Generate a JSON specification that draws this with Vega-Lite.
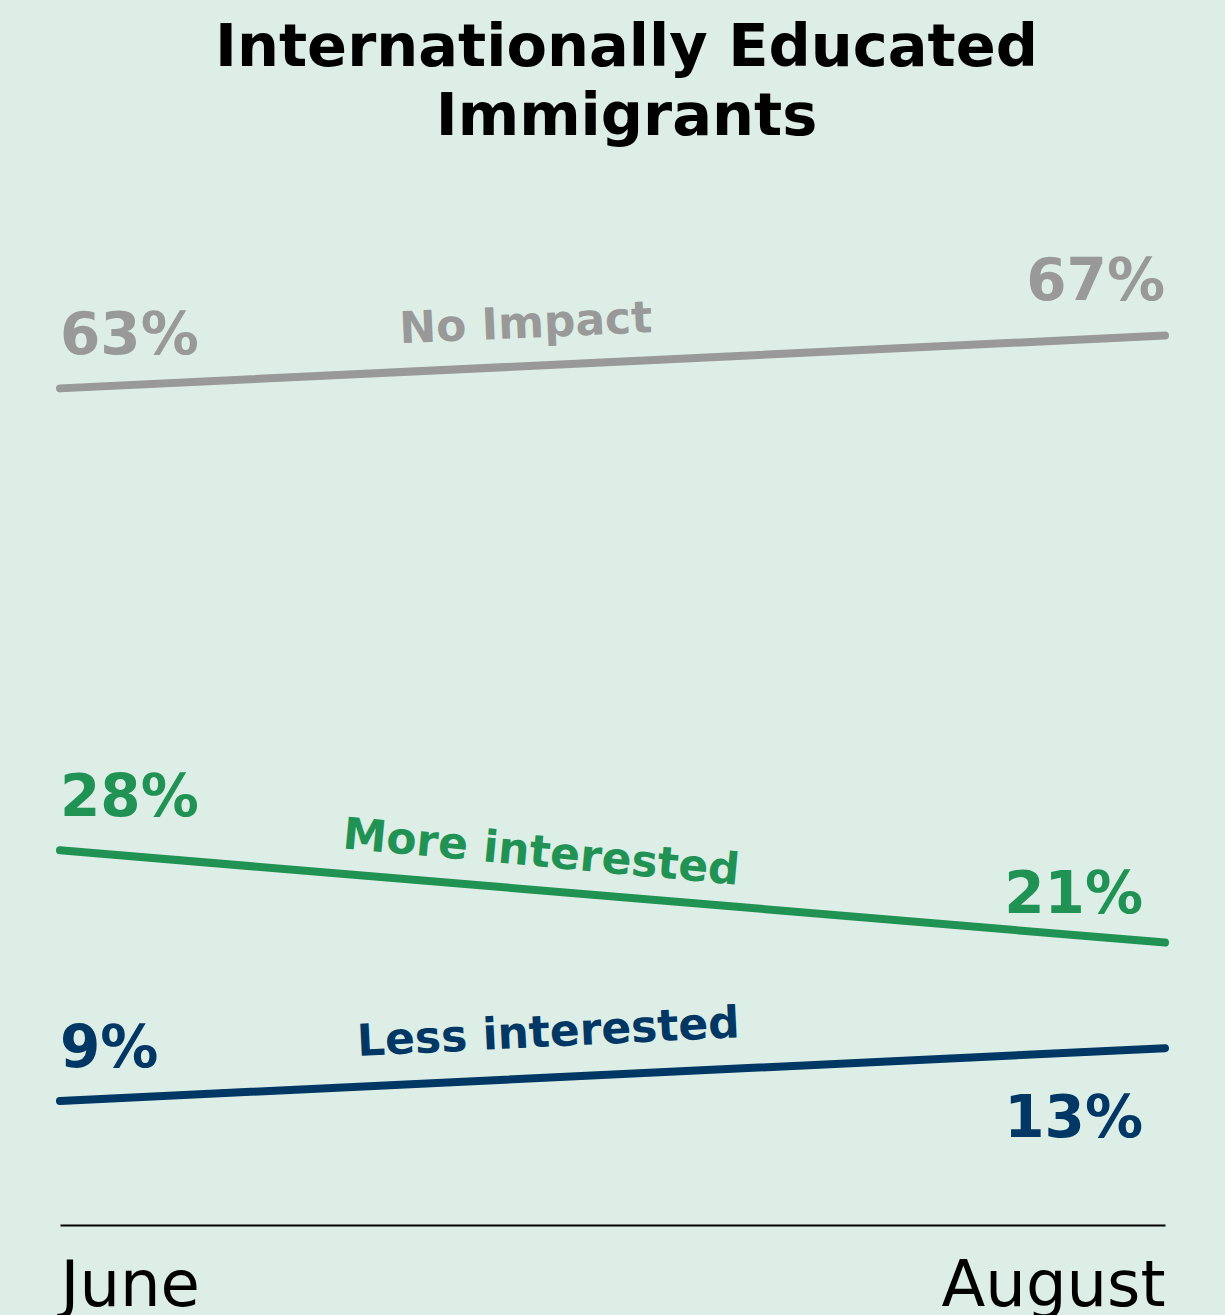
{
  "$schema": "https://vega.github.io/schema/vega-lite/v6.json",
  "width": 1105,
  "height": 929,
  "autosize": "none",
  "padding": {"left": 60, "top": 296, "right": 60, "bottom": 90},
  "background": "#ddeee6",
  "title": {
    "text": ["Internationally Educated", "Immigrants"],
    "font": "DejaVu Sans",
    "fontSize": 59,
    "fontWeight": "bold",
    "color": "#000000",
    "lineHeight": 69,
    "anchor": "middle",
    "frame": "group",
    "baseline": "alphabetic",
    "dx": 14,
    "offset": 60
  },
  "data": {
    "values": [
      {"series": "No Impact", "month": "June", "m": 6, "value": 0.63},
      {"series": "No Impact", "month": "August", "m": 8, "value": 0.67},
      {"series": "More interested", "month": "June", "m": 6, "value": 0.28},
      {"series": "More interested", "month": "August", "m": 8, "value": 0.21},
      {"series": "Less interested", "month": "June", "m": 6, "value": 0.09},
      {"series": "Less interested", "month": "August", "m": 8, "value": 0.13}
    ]
  },
  "encoding": {
    "x": {
      "field": "m",
      "type": "quantitative",
      "scale": {"domain": [6, 8], "nice": false, "zero": false},
      "axis": {
        "title": null,
        "values": [6, 8],
        "labelExpr": "datum.value == 6 ? 'June' : 'August'",
        "labelFlush": true,
        "labelLimit": 500,
        "labelFont": "DejaVu Sans",
        "labelFontSize": 64,
        "labelColor": "#000000",
        "labelBaseline": "alphabetic",
        "labelPadding": 80,
        "ticks": false,
        "grid": false,
        "domainColor": "#000000",
        "domainWidth": 2
      }
    },
    "y": {
      "field": "value",
      "type": "quantitative",
      "scale": {"domain": [-0.004, 0.70], "nice": false, "zero": false},
      "axis": null
    },
    "color": {
      "field": "series",
      "type": "nominal",
      "scale": {
        "domain": ["No Impact", "More interested", "Less interested"],
        "range": ["#999999", "#1f9254", "#003764"]
      },
      "legend": null
    }
  },
  "layer": [
    {
      "mark": {"type": "line", "strokeWidth": 8, "strokeCap": "round"},
      "encoding": {"detail": {"field": "series"}}
    },
    {
      "transform": [{"filter": "datum.month == 'June'"}],
      "mark": {"type": "text", "align": "left", "baseline": "alphabetic", "dy": -34, "font": "DejaVu Sans", "fontSize": 58, "fontWeight": 600},
      "encoding": {"text": {"field": "value", "format": ".0%"}}
    },
    {
      "transform": [{"filter": "datum.month == 'August' && datum.series == 'No Impact'"}],
      "mark": {"type": "text", "align": "right", "baseline": "alphabetic", "dy": -36, "font": "DejaVu Sans", "fontSize": 58, "fontWeight": 600},
      "encoding": {"text": {"field": "value", "format": ".0%"}}
    },
    {
      "transform": [{"filter": "datum.month == 'August' && datum.series == 'More interested'"}],
      "mark": {"type": "text", "align": "right", "baseline": "alphabetic", "dx": -22, "dy": -30, "font": "DejaVu Sans", "fontSize": 58, "fontWeight": 600},
      "encoding": {"text": {"field": "value", "format": ".0%"}}
    },
    {
      "transform": [{"filter": "datum.month == 'August' && datum.series == 'Less interested'"}],
      "mark": {"type": "text", "align": "right", "baseline": "alphabetic", "dx": -22, "dy": 89, "font": "DejaVu Sans", "fontSize": 58, "fontWeight": 600},
      "encoding": {"text": {"field": "value", "format": ".0%"}}
    },
    {
      "transform": [
        {"filter": "datum.series == 'No Impact'"},
        {"aggregate": [{"op": "mean", "field": "m", "as": "m"}, {"op": "mean", "field": "value", "as": "value"}], "groupby": ["series"]}
      ],
      "mark": {"type": "text", "align": "center", "baseline": "alphabetic", "angle": 357.5, "dx": -85, "dy": -28, "font": "DejaVu Sans", "fontSize": 44, "fontWeight": "bold"},
      "encoding": {"text": {"field": "series"}}
    },
    {
      "transform": [
        {"filter": "datum.series == 'More interested'"},
        {"aggregate": [{"op": "mean", "field": "m", "as": "m"}, {"op": "mean", "field": "value", "as": "value"}], "groupby": ["series"]}
      ],
      "mark": {"type": "text", "align": "center", "baseline": "alphabetic", "angle": 5.3, "dx": -75, "dy": -23, "font": "DejaVu Sans", "fontSize": 44, "fontWeight": "bold"},
      "encoding": {"text": {"field": "series"}}
    },
    {
      "transform": [
        {"filter": "datum.series == 'Less interested'"},
        {"aggregate": [{"op": "mean", "field": "m", "as": "m"}, {"op": "mean", "field": "value", "as": "value"}], "groupby": ["series"]}
      ],
      "mark": {"type": "text", "align": "center", "baseline": "alphabetic", "angle": 357.2, "dx": -62, "dy": -31, "font": "DejaVu Sans", "fontSize": 44, "fontWeight": "bold"},
      "encoding": {"text": {"field": "series"}}
    }
  ],
  "config": {"view": {"stroke": null}}
}
